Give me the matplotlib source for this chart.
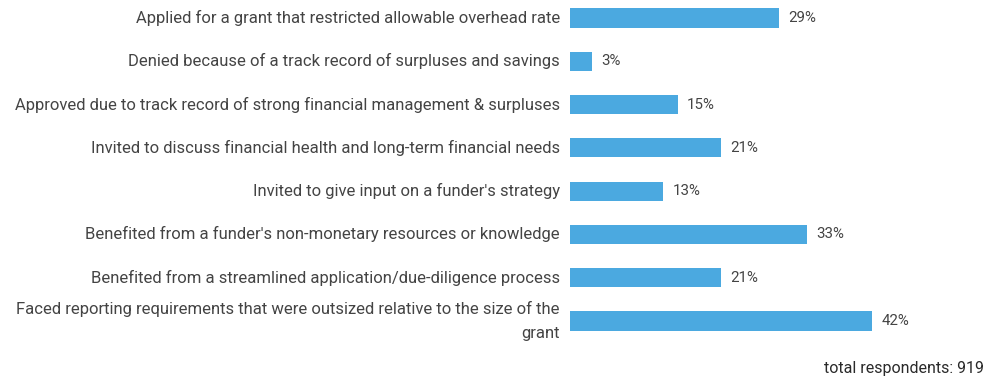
import matplotlib
matplotlib.use("Agg")
import matplotlib.pyplot as plt
from matplotlib import font_manager

categories = [
    "Applied for a grant that restricted allowable overhead rate",
    "Denied because of a track record of surpluses and savings",
    "Approved due to track record of strong financial management & surpluses",
    "Invited to discuss financial health and long-term financial needs",
    "Invited to give input on a funder's strategy",
    "Benefited from a funder's non-monetary resources or knowledge",
    "Benefited from a streamlined application/due-diligence process",
    "Faced reporting requirements that were outsized relative to the size of the\ngrant",
]
values = [29, 3, 15, 21, 13, 33, 21, 42]
footnote = "total respondents: 919"

names = {f.name for f in font_manager.fontManager.ttflist}
label_family = "Liberation Sans Narrow" if "Liberation Sans Narrow" in names else "Roboto"

BAR = "#4BA9E0"
TEXT = "#444444"

fig = plt.figure(figsize=(9.87, 3.81), dpi=100)
ax = fig.add_axes([570 / 987, 0, 417 / 987, 1])

pos = list(range(len(values)))
ax.barh(pos, values, height=0.44, color=BAR)
ax.set_xlim(0, 417 / 7.19)
ax.set_ylim(7 + 60 / 43.29, -18 / 43.29)
ax.axis("off")

for y, v, c in zip(pos, values, categories):
    ax.text(v + 1.3, y, f"{v}%", va="center", ha="left", fontsize=10.8,
            color=TEXT, family=label_family)
    ax.annotate(c, xy=(0, y), xytext=(-10, 0), textcoords="offset pixels",
                ha="right", va="center", multialignment="right",
                fontsize=12, color=TEXT, family=label_family,
                linespacing=1.8)

fig.text(984 / 987, 1 - 369 / 381, footnote, ha="right", va="center",
         fontsize=11.5, color="#2a2a2a", family="Roboto")

fig.savefig("out.png", dpi=100)
